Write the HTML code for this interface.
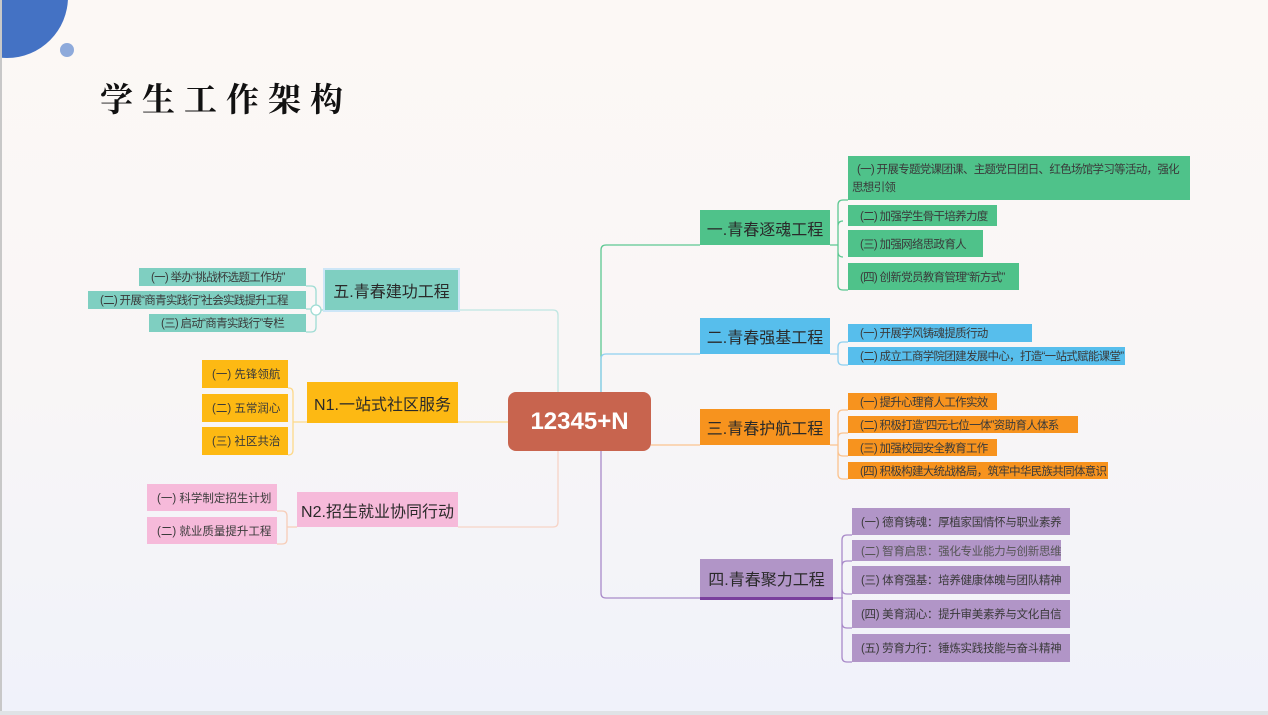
<!DOCTYPE html>
<html><head><meta charset="utf-8"><style>
*{margin:0;padding:0;box-sizing:border-box}
body{width:1268px;height:715px;overflow:hidden;position:relative;background:linear-gradient(#fcf8f5,#f9f6f6 50%,#f0f2fa);font-family:"Liberation Sans","Noto Sans CJK SC",sans-serif}
.b{position:absolute;display:flex;align-items:center;color:#333;white-space:nowrap;overflow:hidden}
.s{font-size:11.5px;padding-left:12px;color:#3a3a3a;letter-spacing:-0.7px}
.m{font-size:16px;justify-content:center;color:#2a2a2a}
.g{background:#4fc28a}.bl{background:#57beec}.o{background:#f7931e}.p{background:#b195c7}.t{background:#7fcfc1}.y{background:#fdb913}.k{background:#f6bada}
.pp{font-size:11.5px;padding-left:9px;letter-spacing:-0.3px}
svg{position:absolute;left:0;top:0}
</style></head><body>
<div style="position:absolute;left:-54px;top:-64px;width:122px;height:122px;border-radius:50%;background:#4472c4"></div>
<div style="position:absolute;left:60px;top:43px;width:14px;height:14px;border-radius:50%;background:#8eaadb"></div>
<div style="position:absolute;left:0;top:0;width:2px;height:715px;background:#c8c8c8"></div>
<div style="position:absolute;left:0;top:711px;width:1268px;height:4px;background:#dfe3e6"></div>
<div style="position:absolute;left:100px;top:74px;font-size:33px;font-weight:bold;letter-spacing:9px;color:#111;font-family:'Noto Serif CJK SC',serif">学生工作架构</div>

<svg width="1268" height="715" fill="none" stroke-width="1.3">
<path d="M700 245 H606 Q601 245 601 250 V392" stroke="#5cc892"/>
<path d="M700 354 H606 Q601 354 601 359 V392" stroke="#8fd0f0"/>
<path d="M651 445 H700" stroke="#fbc38e"/>
<path d="M601 451 V593 Q601 598 606 598 H700" stroke="#a98ac9"/>
<path d="M458 310 H553 Q558 310 558 315 V392" stroke="#bfe6e2"/>
<path d="M458 422 H508" stroke="#fdd98a"/>
<path d="M458 527 H553 Q558 527 558 522 V451" stroke="#f7d3c6"/>
<path d="M830 245 H838 M843 200 Q838 200 838 205 V285 Q838 290 843 290 H848 M838 226 Q838 221 843 221 M838 252 Q838 257 843 257 M843 200 H848" stroke="#5cc892"/>
<path d="M830 354 H838 M848 342 H843 Q838 342 838 347 V360 Q838 365 843 365 H848" stroke="#8fd0f0"/>
<path d="M830 445 H838 M848 410 H843 Q838 410 838 415 V474 Q838 479 843 479 H848 M838 438 Q838 433 843 433 H848 M838 451 Q838 456 843 456 H848" stroke="#fbc38e"/>
<path d="M833 598 H843 M852 535 H847 Q842 535 842 540 V657 Q842 662 847 662 H852 M842 566 Q842 561 847 561 H852 M842 589 Q842 594 847 594 H852 M842 623 Q842 628 847 628 H852" stroke="#a98ac9"/>
<path d="M325 310 H321 M306 286 H311 Q316 286 316 291 V327 Q316 332 311 332 H306 M306 309 H311" stroke="#9fdcd4"/>
<circle cx="316" cy="310" r="5" fill="#fff" stroke="#9fdcd4"/>
<path d="M307 422 H293 M288 388 H289 Q293 388 293 393 V450 Q293 455 288 455" stroke="#fdd98a"/>
<path d="M297 527 H287 M277 511 H282 Q287 511 287 516 V539 Q287 544 282 544 H277" stroke="#f7cdb8"/>
</svg>

<div class="b" style="left:508px;top:392px;width:143px;height:59px;background:#c8644e;border-radius:8px;justify-content:center;color:#fff;font-size:24px;font-weight:bold">12345+N</div>

<div class="b m g" style="left:700px;top:210px;width:130px;height:35px">一.青春逐魂工程</div>
<div class="b s g" style="left:848px;top:156px;width:342px;height:44px;white-space:normal;padding:5px 6px 0 4px;line-height:18px;display:block">&nbsp;&nbsp;(一) 开展专题党课团课、主题党日团日、红色场馆学习等活动，强化思想引领</div>
<div class="b s g" style="left:848px;top:205px;width:149px;height:21px">(二) 加强学生骨干培养力度</div>
<div class="b s g" style="left:848px;top:230px;width:135px;height:27px">(三) 加强网络思政育人</div>
<div class="b s g" style="left:848px;top:263px;width:171px;height:27px">(四) 创新党员教育管理“新方式”</div>

<div class="b m bl" style="left:700px;top:318px;width:130px;height:36px">二.青春强基工程</div>
<div class="b s bl" style="left:848px;top:324px;width:184px;height:18px">(一) 开展学风铸魂提质行动</div>
<div class="b s bl" style="left:848px;top:347px;width:277px;height:18px">(二) 成立工商学院团建发展中心，打造“一站式赋能课堂”</div>

<div class="b m o" style="left:700px;top:409px;width:130px;height:36px">三.青春护航工程</div>
<div class="b s o" style="left:848px;top:393px;width:149px;height:17px">(一) 提升心理育人工作实效</div>
<div class="b s o" style="left:848px;top:416px;width:230px;height:17px">(二) 积极打造“四元七位一体”资助育人体系</div>
<div class="b s o" style="left:848px;top:439px;width:149px;height:17px">(三) 加强校园安全教育工作</div>
<div class="b s o" style="left:848px;top:462px;width:260px;height:17px">(四) 积极构建大统战格局，筑牢中华民族共同体意识</div>

<div class="b m p" style="left:700px;top:559px;width:133px;height:41px;border-bottom:3px solid #7a3f9d">四.青春聚力工程</div>
<div class="b s p pp" style="left:852px;top:508px;width:218px;height:27px">(一) 德育铸魂：厚植家国情怀与职业素养</div>
<div class="b s p pp" style="left:852px;top:540px;width:209px;height:21px;color:#555">(二) 智育启思：强化专业能力与创新思维</div>
<div class="b s p pp" style="left:852px;top:566px;width:218px;height:28px">(三) 体育强基：培养健康体魄与团队精神</div>
<div class="b s p pp" style="left:852px;top:600px;width:218px;height:28px">(四) 美育润心：提升审美素养与文化自信</div>
<div class="b s p pp" style="left:852px;top:634px;width:218px;height:28px">(五) 劳育力行：锤炼实践技能与奋斗精神</div>

<div class="b m t" style="left:325px;top:270px;width:133px;height:40px;outline:2px solid #cde6f7">五.青春建功工程</div>
<div class="b s t" style="left:139px;top:268px;width:167px;height:18px">(一) 举办“挑战杯选题工作坊”</div>
<div class="b s t" style="left:88px;top:291px;width:218px;height:18px">(二) 开展“商青实践行”社会实践提升工程</div>
<div class="b s t" style="left:149px;top:314px;width:157px;height:18px">(三) 启动“商青实践行”专栏</div>

<div class="b m y" style="left:307px;top:382px;width:151px;height:41px">N1.一站式社区服务</div>
<div class="b s y" style="left:202px;top:360px;width:86px;height:28px;padding-left:10px;letter-spacing:0">(一) 先锋领航</div>
<div class="b s y" style="left:202px;top:394px;width:86px;height:28px;padding-left:10px;letter-spacing:0">(二) 五常润心</div>
<div class="b s y" style="left:202px;top:427px;width:86px;height:28px;padding-left:10px;letter-spacing:0">(三) 社区共治</div>

<div class="b m k" style="left:297px;top:492px;width:161px;height:35px">N2.招生就业协同行动</div>
<div class="b s k" style="left:147px;top:484px;width:130px;height:27px;padding-left:10px;letter-spacing:0">(一) 科学制定招生计划</div>
<div class="b s k" style="left:147px;top:517px;width:130px;height:27px;padding-left:10px;letter-spacing:0">(二) 就业质量提升工程</div>
</body></html>
